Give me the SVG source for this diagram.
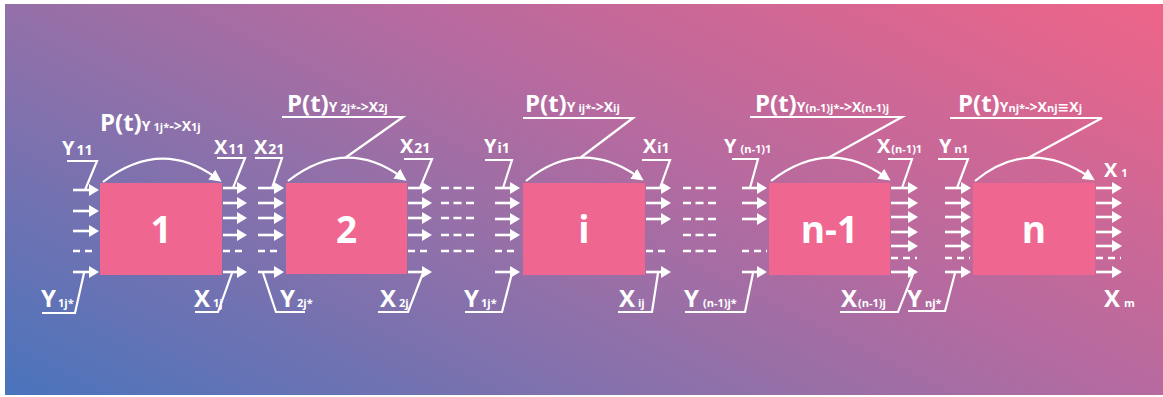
<svg xmlns="http://www.w3.org/2000/svg" width="1163" height="397" viewBox="0 0 1163 397">
<defs>
<linearGradient id="bg" gradientUnits="userSpaceOnUse" x1="5" y1="393" x2="396" y2="-383">
<stop offset="0" stop-color="#4a74bc"/>
<stop offset="0.4" stop-color="#9470a8"/>
<stop offset="0.6" stop-color="#b76a9f"/>
<stop offset="1" stop-color="#ee6488"/>
</linearGradient>
<marker id="ah" viewBox="0 0 10 12" refX="3" refY="6" markerWidth="10" markerHeight="12" markerUnits="userSpaceOnUse" orient="auto"><path d="M0,0 L10,6 L0,12 z" fill="#fff"/></marker>
<marker id="ah2" viewBox="0 0 12 12" refX="4" refY="6" markerWidth="12" markerHeight="12" markerUnits="userSpaceOnUse" orient="auto"><path d="M0,0 L12,6 L0,12 z" fill="#fff"/></marker>
</defs>
<style>
text{font-family:"Open Sans","DejaVu Sans",sans-serif;font-weight:bold;fill:#fff}
.box{fill:#ef6790}
.num{font-size:37px;text-anchor:middle}
.pt{font-size:24px}
.s1{font-size:14px}
.s2{font-size:11px}
.top{font-size:20px}
.bot{font-size:24px}
.ts{font-size:14px}
.bs{font-size:11px}
.arr{stroke:#fff;stroke-width:2.6;fill:none;marker-end:url(#ah)}
.dash{stroke:#fff;stroke-width:2.6;fill:none;stroke-dasharray:7 5}
.dash3{stroke:#fff;stroke-width:2.6;fill:none;stroke-dasharray:8 4.5}
.br{stroke:#fff;stroke-width:2.2;fill:none;stroke-linejoin:miter}
.arc{stroke:#fff;stroke-width:2.2;fill:none;marker-end:url(#ah2)}
</style>
<rect width="1163" height="397" fill="#fff"/>
<rect x="5" y="4" width="1158" height="391" fill="url(#bg)"/>

<g id="node-1">
<rect class="box" x="100" y="183" width="122" height="92"/>
<text class="num" x="161" y="243">1</text>
<text x="100" y="131"><tspan class="pt">P(t)</tspan><tspan class="s1">Y</tspan><tspan class="s2" dx="3">1j*</tspan><tspan class="s1">-&gt;X</tspan><tspan class="s2">1j</tspan></text>
</g>
<g id="node-2">
<rect class="box" x="286" y="183" width="121" height="91"/>
<text class="num" x="346.5" y="243">2</text>
<text x="287" y="112"><tspan class="pt">P(t)</tspan><tspan class="s1">Y</tspan><tspan class="s2" dx="3">2j*</tspan><tspan class="s1">-&gt;X</tspan><tspan class="s2">2j</tspan></text>
</g>
<g id="node-i">
<rect class="box" x="523" y="183" width="122" height="92"/>
<text class="num" x="584" y="243">i</text>
<text x="525" y="112"><tspan class="pt">P(t)</tspan><tspan class="s1">Y</tspan><tspan class="s2" dx="3">ij*</tspan><tspan class="s1">-&gt;X</tspan><tspan class="s2">ij</tspan></text>
</g>
<g id="node-n-1">
<rect class="box" x="769" y="183" width="121" height="92"/>
<text class="num" x="829.5" y="243">n-1</text>
<text x="755" y="112"><tspan class="pt">P(t)</tspan><tspan class="s1">Y</tspan><tspan class="s2">(n-1)j*</tspan><tspan class="s1">-&gt;X</tspan><tspan class="s2">(n-1)j</tspan></text>
</g>
<g id="node-n">
<rect class="box" x="973" y="183" width="122" height="92"/>
<text class="num" x="1034" y="243">n</text>
<text x="958" y="112"><tspan class="pt">P(t)</tspan><tspan class="s1">Y</tspan><tspan class="s2">nj*</tspan><tspan class="s1">-&gt;X</tspan><tspan class="s2">nj</tspan><tspan class="s1">≡X</tspan><tspan class="s2">j</tspan></text>
</g>

<g id="labels">
<text x="62" y="155"><tspan class="top">Y</tspan><tspan class="ts" dx="2">11</tspan></text>
<text x="41" y="307"><tspan class="bot">Y</tspan><tspan class="bs" dx="2">1j*</tspan></text>
<text x="214" y="154"><tspan class="top">X</tspan><tspan class="ts" dx="1">11</tspan></text>
<text x="194" y="307"><tspan class="bot">X</tspan><tspan class="bs" dx="3">1j</tspan></text>
<text x="254" y="154"><tspan class="top">X</tspan><tspan class="ts" dx="1">21</tspan></text>
<text x="280" y="307"><tspan class="bot">Y</tspan><tspan class="bs" dx="2">2j*</tspan></text>
<text x="400" y="153"><tspan class="top">X</tspan><tspan class="ts" dx="1">21</tspan></text>
<text x="380" y="307"><tspan class="bot">X</tspan><tspan class="bs" dx="3">2j</tspan></text>
<text x="484" y="153"><tspan class="top">Y</tspan><tspan class="ts" dx="1">i1</tspan></text>
<text x="464" y="307"><tspan class="bot">Y</tspan><tspan class="bs" dx="2">1j*</tspan></text>
<text x="643" y="153"><tspan class="top">X</tspan><tspan class="ts" dx="1">i1</tspan></text>
<text x="619" y="307"><tspan class="bot">X</tspan><tspan class="bs" dx="3">ij</tspan></text>
<text x="724" y="153"><tspan class="top">Y</tspan><tspan class="bs" dx="4">(n-1)1</tspan></text>
<text x="684" y="307"><tspan class="bot">Y</tspan><tspan class="bs" dx="4">(n-1)j*</tspan></text>
<text x="877" y="153"><tspan class="top">X</tspan><tspan class="bs" dx="1">(n-1)1</tspan></text>
<text x="841" y="307"><tspan class="bot">X</tspan><tspan class="bs" dx="1">(n-1)j</tspan></text>
<text x="939" y="153"><tspan class="top">Y</tspan><tspan class="bs" dx="3">n1</tspan></text>
<text x="907" y="307"><tspan class="bot">Y</tspan><tspan class="bs" dx="3">nj*</tspan></text>
<text x="1104" y="177"><tspan class="top">X</tspan><tspan class="bs" dx="4">1</tspan></text>
<text x="1104" y="307"><tspan class="bot">X</tspan><tspan class="bs" dx="4">m</tspan></text>
</g>

<g id="connectors">
<!-- node 1 -->
<path class="arc" d="M103,182 Q160,138 215,177"/>
<polyline class="br" points="67,161 97,161 85,190"/>
<polyline class="br" points="42,313 75,313 84,273"/>
<path class="arr" d="M73,190H92"/><path class="arr" d="M73,211H92"/><path class="arr" d="M73,231H92"/><path class="arr" d="M73,272H92"/>
<path class="dash" d="M73,251H92"/>
<polyline class="br" points="217,158 245,158 233,188"/>
<polyline class="br" points="195,312 218,312 232,273"/>
<path class="arr" d="M223,188H240"/><path class="arr" d="M223,203H240"/><path class="arr" d="M223,218H240"/><path class="arr" d="M223,235H240"/><path class="arr" d="M223,272H240"/>
<path class="dash" d="M223,251H246"/>
<!-- node 2 -->
<polyline class="br" points="255,158 282,158 272,188"/>
<polyline class="br" points="263,273 276,312 305,312"/>
<path class="arr" d="M258,188H277"/><path class="arr" d="M258,203H277"/><path class="arr" d="M258,218H277"/><path class="arr" d="M258,235H277"/><path class="arr" d="M258,272H277"/>
<path class="dash" d="M258,251H281"/>
<polyline class="br" points="282,117 403,117 345,158"/>
<path class="arc" d="M288,181 Q345,137 400,176"/>
<polyline class="br" points="404,159 432,159 420,188"/>
<polyline class="br" points="378,312 408,312 423,273"/>
<path class="arr" d="M408,188H425"/><path class="arr" d="M408,203H425"/><path class="arr" d="M408,218H425"/><path class="arr" d="M408,235H425"/><path class="arr" d="M408,272H425"/>
<path class="dash" d="M408,251H431"/>
<path class="dash3" d="M441,188H478M441,203H478M441,218H478M441,235H478M441,251H478"/>
<!-- node i -->
<polyline class="br" points="485,160 512,160 503,188"/>
<polyline class="br" points="465,312 502,312 512,273"/>
<path class="arr" d="M495,188H513"/><path class="arr" d="M495,203H513"/><path class="arr" d="M495,219H513"/><path class="arr" d="M495,235H513"/><path class="arr" d="M495,272H513"/>
<path class="dash" d="M495,251H519"/>
<polyline class="br" points="523,118 633,118 580,158"/>
<path class="arc" d="M526,181 Q580,137 637,176"/>
<polyline class="br" points="642,160 670,160 660,188"/>
<polyline class="br" points="618,312 652,312 658,273"/>
<path class="arr" d="M646,188H664"/><path class="arr" d="M646,203H664"/><path class="arr" d="M646,219H664"/><path class="arr" d="M646,272H664"/>
<path class="dash" d="M646,251H670"/>
<path class="dash3" d="M683,188H720M683,203H720M683,219H720M683,235H720M683,251H720"/>
<!-- node n-1 -->
<polyline class="br" points="732,159 758,159 750,188"/>
<polyline class="br" points="685,312 745,312 753,273"/>
<path class="arr" d="M742,188H760"/><path class="arr" d="M742,203H760"/><path class="arr" d="M742,219H760"/><path class="arr" d="M742,272H760"/>
<path class="dash" d="M742,251H767"/>
<polyline class="br" points="750,117 902,117 828,158"/>
<path class="arc" d="M771,181 Q828,137 884,176"/>
<polyline class="br" points="888,159 912,159 902,188"/>
<polyline class="br" points="840,312 898,312 913,274"/>
<path class="arr" d="M891,188H911"/><path class="arr" d="M891,203H911"/><path class="arr" d="M891,217H911"/><path class="arr" d="M891,232H911"/><path class="arr" d="M891,246H911"/><path class="arr" d="M891,272H911"/>
<path class="dash" d="M891,258H917"/>
<!-- node n -->
<polyline class="br" points="938,159 968,159 957,188"/>
<polyline class="br" points="908,311 945,311 955,273"/>
<path class="arr" d="M945,188H964"/><path class="arr" d="M945,203H964"/><path class="arr" d="M945,217H964"/><path class="arr" d="M945,232H964"/><path class="arr" d="M945,246H964"/><path class="arr" d="M945,272H964"/>
<path class="dash" d="M945,258H970"/>
<polyline class="br" points="950,118 1102,118 1028,158"/>
<path class="arc" d="M975,181 Q1028,137 1088,176"/>
<path class="arr" d="M1096,188H1115"/><path class="arr" d="M1096,203H1115"/><path class="arr" d="M1096,217H1115"/><path class="arr" d="M1096,232H1115"/><path class="arr" d="M1096,246H1115"/><path class="arr" d="M1096,272H1115"/>
<path class="dash" d="M1096,258H1121"/>
</g>
</svg>
